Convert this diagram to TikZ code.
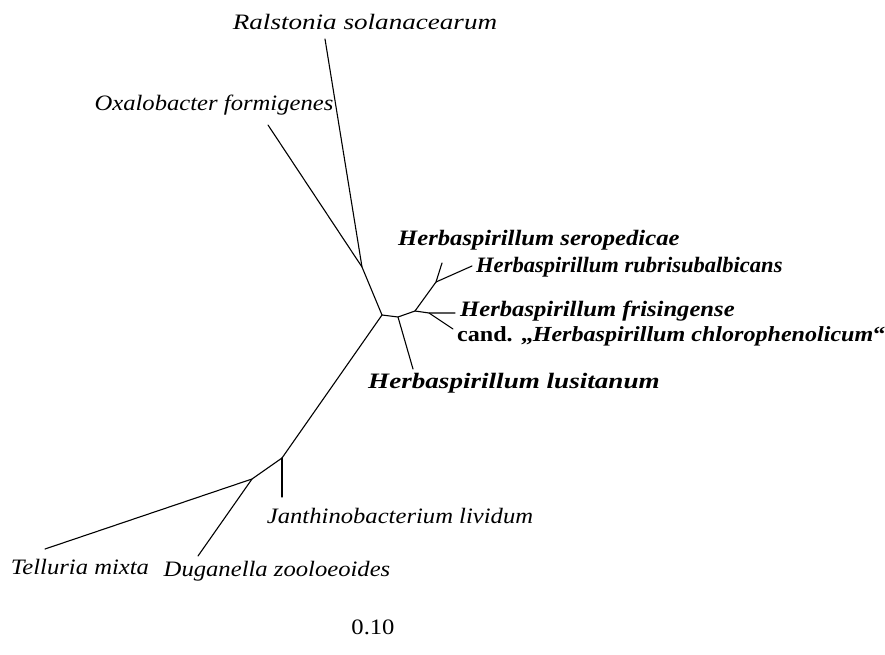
\documentclass[tikz,border=0pt]{standalone}
\usepackage{fontspec}
\setmainfont[FakeStretch=1.12]{Liberation Serif}
\usepackage{tikz}

\begin{document}
\begin{tikzpicture}[
      x=1pt, y=-1pt,
      branch/.style={line width=1.1pt, draw=black, line cap=round},
      taxon/.style={font=\fontsize{22}{24}\selectfont\itshape},
      strain/.style={font=\fontsize{22}{24}\selectfont\bfseries\itshape, anchor=west},
      every node/.style={inner sep=0pt, anchor=center}
      ]
      \useasboundingbox (0,0) rectangle (885,655);
      % inner nodes
      \coordinate (root) at (382,315);
      \coordinate (ox) at (362,267);
      \coordinate (h0) at (398,317);
      \coordinate (h1) at (415,311);
      \coordinate (h2) at (436,282);
      \coordinate (h3) at (429,313);
      \coordinate (jan) at (282,458);
      \coordinate (dug) at (252,479);
      % leaves
      \coordinate (ralE) at (325,39);
      \coordinate (oxaE) at (268,125);
      \coordinate (lusE) at (413,369);
      \coordinate (serE) at (442,263);
      \coordinate (rubE) at (472,266);
      \coordinate (friE) at (455,313);
      \coordinate (chlE) at (453,329);
      \coordinate (janE) at (282,497);
      \coordinate (telE) at (45,549);
      \coordinate (dugE) at (198,556);
      % labels
      \node[taxon] (ral) at (365,22) {\scalebox{1.1}[1]{Ralstonia solanacearum}};
      \node[taxon] (oxa) at (214,105) {Oxalobacter formigenes};
      \node[strain] (ser) at (398,240) {Herbaspirillum seropedicae};
      \node[strain] (rub) at (476,267) {\scalebox{0.915}[1]{Herbaspirillum rubrisubalbicans}};
      \node[strain] (fri) at (460,311) {Herbaspirillum frisingense};
      \node[strain, font=\fontsize{21.5}{24}\selectfont\bfseries] (chl) at (457,336) {cand. „\textit{Herbaspirillum chlorophenolicum}“};
      \node[strain] (lus) at (368,383) {\scalebox{1.1}[1]{Herbaspirillum lusitanum}};
      \node[taxon] (jaL) at (400,516) {Janthinobacterium lividum};
      \node[taxon] (tel) at (80,567) {Telluria mixta};
      \node[taxon] (duL) at (277,571) {Duganella zooloeoides};
      \node[font=\fontsize{22}{24}\selectfont] (scale) at (373,627) {0.10};
      % branches
      \draw[branch] (ralE) -- (ox) -- (root);
      \draw[branch] (oxaE) -- (ox);
      \draw[branch] (root) -- (h0) -- (h1) -- (h2) -- (serE);
      \draw[branch] (h2) -- (rubE);
      \draw[branch] (h0) -- (lusE);
      \draw[branch] (h1) -- (h3) -- (friE);
      \draw[branch] (h3) -- (chlE);
      \draw[branch] (root) -- (jan) -- (dug) -- (telE);
      \draw[branch] (jan) -- (janE);
      \draw[branch] (dug) -- (dugE);
\end{tikzpicture}
\end{document}
